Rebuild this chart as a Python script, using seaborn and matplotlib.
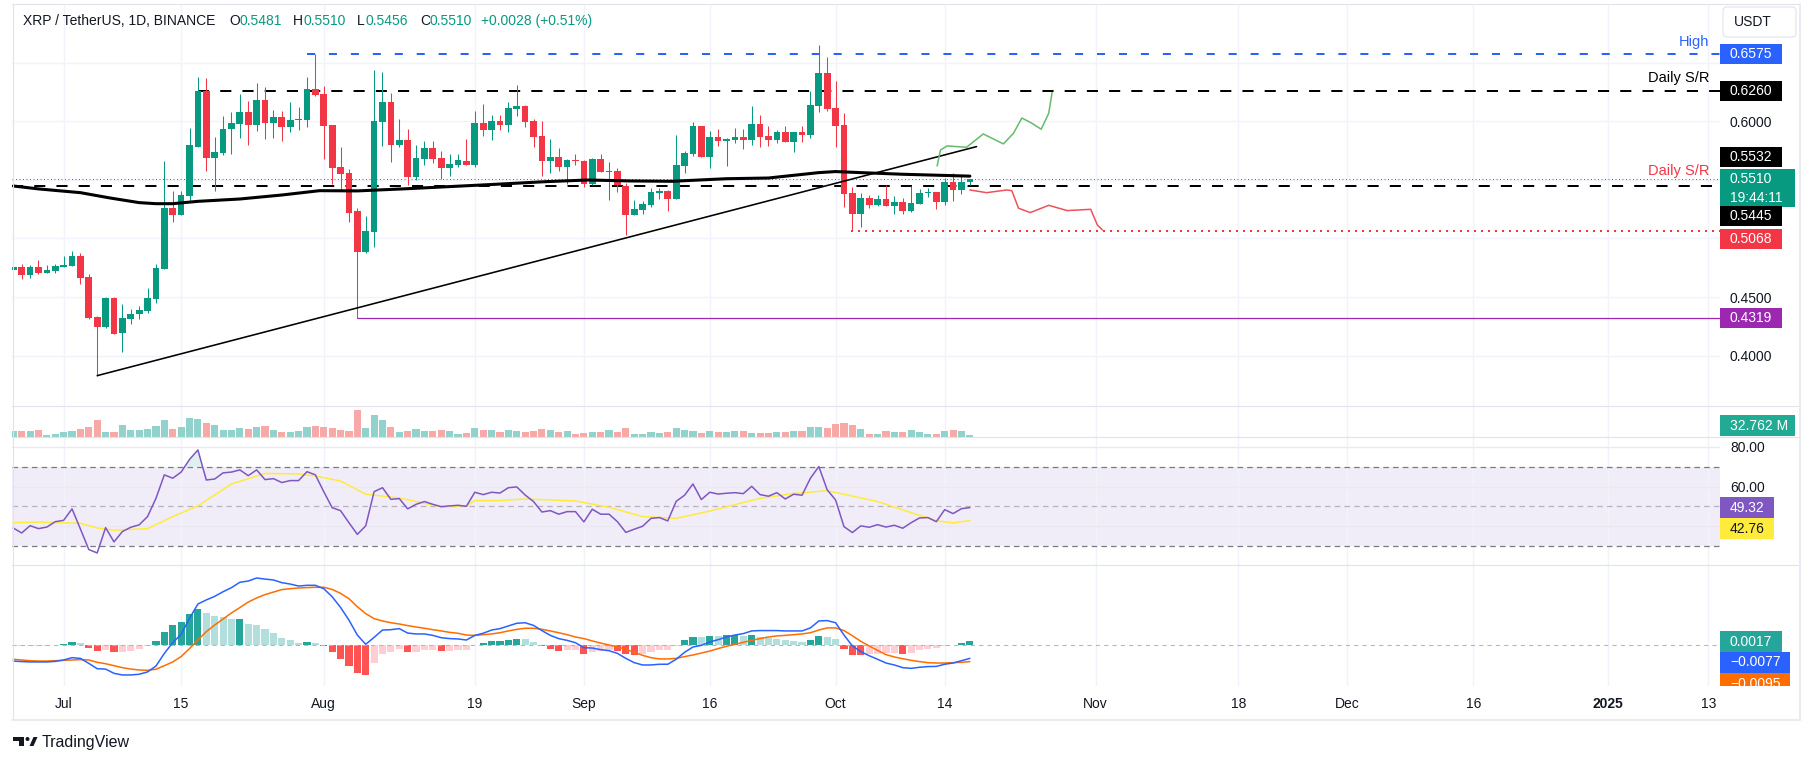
import numpy as np
import pandas as pd
import matplotlib
matplotlib.use("Agg")
import matplotlib.pyplot as plt
import matplotlib.dates as mdates
from matplotlib.patches import Rectangle, FancyBboxPatch, Polygon, Circle
from matplotlib.lines import Line2D
from matplotlib.transforms import IdentityTransform, Bbox
import seaborn as sns

# ---- data (XRP/USDT daily) ----
start = "2024-06-25"
opens = [.4734, .4754, .4692, .4754, .4709, .4726, .4757, .4768, .4851, .4672,
         .4330, .4248, .4493, .4197, .4313, .4353, .4382, .4484, .4743, .5261,
         .5201, .5363, .5781, .6259, .5690, .5730, .5935, .5977, .6080, .5969,
         .6182, .5986, .6037, .5952, .6011, .6011, .6276, .6233, .5969, .5611,
         .5557, .5235, .4885, .5056, .5997, .6165, .5798, .5841, .5525, .5679,
         .5772, .5687, .5602, .5627, .5662, .5627, .5986, .5926, .6003, .5969,
         .6105, .6131, .6003, .5875, .5662, .5696, .5610, .5670, .5662, .5465,
         .5679, .5568, .5576, .5448, .5201, .5244, .5286, .5389, .5406, .5337,
         .5619, .5721, .5960, .5696, .5866, .5832, .5841, .5866, .5841, .5977,
         .5875, .5841, .5909, .5824, .5909, .5883, .6131, .6412, .6114, .5969,
         .5389, .5209, .5346, .5286, .5337, .5278, .5312, .5235, .5295, .5389,
         .5397, .5312, .5482, .5414, .5481]
highs = [.4808, .4783, .4774, .4817, .4774, .4783, .4851, .4894, .4874, .4695,
         .4339, .4501, .4501, .4441, .4399, .4424, .4578, .4783, .5662, .5406,
         .5406, .5943, .6378, .6367, .5866, .6046, .6080, .6230, .6171, .6327,
         .6293, .6097, .6088, .6165, .6122, .6378, .6575, .6301, .5969, .5781,
         .5593, .5261, .5192, .6438, .6421, .6242, .6020, .5935, .5798, .5832,
         .5832, .5747, .5721, .5721, .5849, .6088, .6148, .6054, .6054, .6165,
         .6310, .6139, .6020, .6003, .5849, .5772, .5679, .5721, .5670, .5687,
         .5721, .5653, .5602, .5474, .5329, .5320, .5431, .5431, .5414, .5883,
         .5747, .5994, .5960, .5918, .5935, .5858, .5943, .5935, .6131, .6054,
         .5960, .5926, .5960, .5909, .5960, .6259, .6651, .6549, .6344, .6071,
         .5440, .5389, .5371, .5371, .5457, .5363, .5346, .5448, .5423, .5431,
         .5397, .5516, .5559, .5542, .5510]
lows = [.4725, .4658, .4666, .4700, .4705, .4709, .4757, .4768, .4615, .4313,
        .3830, .4237, .4188, .4035, .4271, .4313, .4365, .4450, .4743, .5141,
        .5201, .5312, .5781, .5579, .5408, .5713, .5721, .5858, .5798, .5918,
        .5849, .5858, .5832, .5909, .5926, .5952, .6216, .5679, .5465, .5406,
        .5141, .4319, .4877, .4928, .5790, .5653, .5781, .5457, .5499, .5627,
        .5644, .5508, .5534, .5610, .5627, .5610, .5875, .5841, .5926, .5909,
        .6046, .5952, .5781, .5534, .5559, .5576, .5465, .5627, .5440, .5457,
        .5568, .5329, .5397, .5030, .5201, .5209, .5269, .5337, .5235, .5337,
        .5559, .5704, .5696, .5602, .5790, .5619, .5815, .5764, .5798, .5781,
        .5790, .5815, .5824, .5738, .5824, .5858, .6080, .6088, .5781, .5269,
        .5068, .5098, .5261, .5278, .5278, .5209, .5209, .5226, .5295, .5354,
        .5252, .5286, .5320, .5380, .5456]
closes = [.4757, .4692, .4754, .4709, .4731, .4766, .4774, .4851, .4666, .4322,
          .4248, .4493, .4188, .4322, .4356, .4390, .4493, .4746, .5261, .5201,
          .5371, .5798, .6259, .5690, .5738, .5935, .5986, .6080, .5969, .6182,
          .5986, .6037, .5952, .6011, .6017, .6276, .6225, .5960, .5602, .5551,
          .5218, .4885, .5064, .6003, .6165, .5798, .5841, .5525, .5687, .5772,
          .5679, .5602, .5636, .5670, .5627, .5986, .5926, .6003, .5969, .6114,
          .6131, .5994, .5866, .5662, .5696, .5610, .5670, .5662, .5465, .5679,
          .5568, .5573, .5457, .5201, .5252, .5295, .5397, .5406, .5337, .5627,
          .5730, .5960, .5696, .5866, .5832, .5846, .5866, .5841, .5977, .5866,
          .5841, .5909, .5824, .5909, .5883, .6139, .6412, .6105, .5960, .5380,
          .5209, .5346, .5286, .5337, .5278, .5312, .5235, .5303, .5389, .5394,
          .5312, .5482, .5414, .5482, .5510]
volumes = [84.2, 84.2, 84.2, 98.3, 32.8, 42.1, 70.2, 84.2, 112.3, 140.4,
           224.6, 70.2, 70.2, 168.5, 98.3, 98.3, 112.3, 154.4, 224.6, 112.3,
           140.4, 252.7, 238.7, 196.6, 168.5, 98.3, 98.3, 126.4, 112.3, 140.4,
           154.4, 98.3, 70.2, 70.2, 84.2, 140.4, 154.4, 140.4, 126.4, 98.3,
           84.2, 365.0, 126.4, 294.8, 224.6, 140.4, 70.2, 84.2, 112.3, 84.2,
           84.2, 98.3, 84.2, 42.1, 56.2, 126.4, 98.3, 98.3, 70.2, 98.3,
           84.2, 70.2, 84.2, 112.3, 98.3, 70.2, 84.2, 42.1, 56.2, 70.2,
           70.2, 98.3, 70.2, 126.4, 42.1, 42.1, 70.2, 56.2, 70.2, 126.4,
           98.3, 84.2, 56.2, 84.2, 70.2, 70.2, 84.2, 84.2, 56.2, 56.2,
           56.2, 70.2, 70.2, 84.2, 84.2, 140.4, 140.4, 126.4, 182.5, 196.6,
           168.5, 112.3, 42.1, 42.1, 84.2, 70.2, 70.2, 98.3, 70.2, 42.1,
           42.1, 84.2, 98.3, 84.2, 32.762]
rsi = [39.0, 36.5, 40.2, 38.7, 39.5, 42.2, 42.9, 48.7, 38.5, 28.1,
       26.4, 39.2, 32.0, 37.2, 39.4, 40.6, 44.8, 54.0, 65.9, 64.2,
       67.3, 73.7, 78.5, 63.3, 63.8, 66.9, 67.3, 68.4, 65.5, 68.4,
       63.5, 64.0, 62.0, 63.0, 63.0, 67.5, 65.9, 57.4, 49.3, 47.8,
       41.7, 35.8, 40.1, 57.4, 59.4, 53.5, 53.9, 48.7, 51.0, 52.4,
       51.0, 49.8, 50.2, 50.5, 50.0, 57.1, 55.9, 57.1, 56.7, 59.4,
       59.8, 55.7, 52.4, 47.1, 47.8, 46.0, 47.3, 47.3, 42.1, 48.5,
       46.0, 46.0, 42.2, 36.8, 38.4, 39.9, 43.9, 44.3, 42.6, 52.5,
       55.6, 61.3, 53.4, 57.1, 56.2, 56.6, 56.9, 56.4, 60.1, 55.9,
       55.1, 56.9, 53.7, 56.1, 55.6, 64.2, 70.1, 58.3, 53.2, 39.7,
       36.7, 40.1, 39.4, 40.7, 39.5, 40.4, 38.9, 41.7, 44.1, 44.3,
       42.2, 48.3, 46.3, 48.8, 49.32]
rsi_ma_idx = [0, 3, 8, 10, 12, 16, 19, 22, 26, 30, 34, 36, 39, 42, 46, 51, 54, 55, 58,
              61, 67, 71, 75, 79, 83, 89, 93, 97, 99, 103, 107, 110, 112, 114]
rsi_ma = [41.7, 42.0, 41.4, 39.0, 37.9, 38.7, 44.8, 50.2, 61.3, 66.6, 66.4, 65.3, 62.8,
          56.1, 54.2, 49.7, 50.2, 52.9, 52.9, 53.7, 52.7, 49.5, 44.8, 43.9, 47.6, 54.0,
          56.5, 57.9, 56.1, 52.4, 46.8, 42.7, 41.6, 42.76]
macd = [-0.0092, -0.0095, -0.0097, -0.0097, -0.0097, -0.0094, -0.0086, -0.0073, -0.0077, -0.0105,
        -0.0135, -0.0137, -0.0161, -0.0170, -0.0170, -0.0166, -0.0153, -0.0120, -0.0049, 0.0011,
        0.0058, 0.0148, 0.0228, 0.0251, 0.0271, 0.0297, 0.0320, 0.0350, 0.0357, 0.0374,
        0.0368, 0.0363, 0.0348, 0.0340, 0.0329, 0.0333, 0.0333, 0.0314, 0.0269, 0.0209,
        0.0138, 0.0054, 0.0002, 0.0041, 0.0082, 0.0084, 0.0090, 0.0065, 0.0060, 0.0060,
        0.0052, 0.0039, 0.0034, 0.0032, 0.0026, 0.0052, 0.0064, 0.0082, 0.0090, 0.0105,
        0.0120, 0.0123, 0.0108, 0.0079, 0.0052, 0.0034, 0.0024, 0.0011, -0.0017, -0.0019,
        -0.0028, -0.0034, -0.0049, -0.0077, -0.0101, -0.0114, -0.0114, -0.0110, -0.0110, -0.0082,
        -0.0043, -0.0013, -0.0004, 0.0015, 0.0028, 0.0043, 0.0054, 0.0062, 0.0077, 0.0079,
        0.0079, 0.0079, 0.0077, 0.0077, 0.0077, 0.0094, 0.0133, 0.0135, 0.0123, 0.0054,
        -0.0007, -0.0039, -0.0062, -0.0082, -0.0103, -0.0114, -0.0129, -0.0133, -0.0127, -0.0123,
        -0.0122, -0.0110, -0.0103, -0.0090, -0.0077]
signal = [-0.0082, -0.0086, -0.0090, -0.0092, -0.0092, -0.0090, -0.0088, -0.0086, -0.0084, -0.0086,
          -0.0099, -0.0107, -0.0118, -0.0129, -0.0137, -0.0142, -0.0144, -0.0138, -0.0118, -0.0097,
          -0.0067, -0.0022, 0.0026, 0.0073, 0.0110, 0.0144, 0.0178, 0.0208, 0.0239, 0.0262,
          0.0281, 0.0295, 0.0309, 0.0314, 0.0318, 0.0320, 0.0322, 0.0322, 0.0310, 0.0288,
          0.0258, 0.0213, 0.0174, 0.0146, 0.0133, 0.0123, 0.0116, 0.0107, 0.0099, 0.0092,
          0.0084, 0.0077, 0.0069, 0.0064, 0.0054, 0.0052, 0.0056, 0.0060, 0.0067, 0.0077,
          0.0086, 0.0092, 0.0092, 0.0086, 0.0077, 0.0067, 0.0056, 0.0043, 0.0034, 0.0021,
          0.0009, -0.0002, -0.0013, -0.0026, -0.0043, -0.0060, -0.0073, -0.0080, -0.0080, -0.0077,
          -0.0067, -0.0058, -0.0047, -0.0036, -0.0022, -0.0009, 0.0002, 0.0013, 0.0024, 0.0034,
          0.0043, 0.0049, 0.0052, 0.0056, 0.0060, 0.0067, 0.0082, 0.0094, 0.0094, 0.0079,
          0.0050, 0.0019, -0.0007, -0.0032, -0.0056, -0.0069, -0.0079, -0.0088, -0.0095, -0.0101,
          -0.0103, -0.0103, -0.0101, -0.0099, -0.0095]
macd_tags = ["0.0017", "\u22120.0077", "\u22120.0095"]

ma200_idx = [0, 3, 8, 11.5, 15, 17, 19, 22, 27, 32, 36.5, 41, 47, 56, 63.5, 68.5, 73.5,
             78.5, 85, 90, 96, 98, 101, 106, 114]
ma200 = [0.5448, 0.5423, 0.5391, 0.5346, 0.5306, 0.5297, 0.5297, 0.5317, 0.5337, 0.5371,
         0.5408, 0.5406, 0.5425, 0.5457, 0.5485, 0.5499, 0.5491, 0.5488, 0.5510, 0.5516,
         0.5562, 0.5571, 0.5562, 0.5548, 0.5532]
trend_idx = [10, 114.8]
trend_px = [0.3830, 0.5784]
bull_idx = [110.1, 110.5, 111.3, 113.6, 115.6, 118.0, 119.2, 120.2, 121.4, 122.5, 123.4, 123.8]
bull_px = [0.5619, 0.5755, 0.5790, 0.5778, 0.5892, 0.5807, 0.5898, 0.6028, 0.5983, 0.5932, 0.6068, 0.6245]
bear_idx = [114.0, 116.0, 118.4, 119.0, 119.8, 121.2, 123.4, 125.6, 128.4, 129.2, 129.8]
bear_px = [0.5414, 0.5391, 0.5414, 0.5408, 0.5258, 0.5221, 0.5283, 0.5238, 0.5249, 0.5115, 0.5073]

high_level, high_from = 0.6575, 35
res_level, res_from = 0.6260, 22
sup_level = 0.5445
low_level, low_from = 0.5068, 99.8
aug_low, aug_from = 0.4319, 41

price_ticks = [0.40, 0.45, 0.50, 0.55, 0.60, 0.65]
price_tick_labels = ["0.4000", "0.4500", "", "", "0.6000", ""]
tick_dates = ["2024-07-01", "2024-07-15", "2024-08-01", "2024-08-19", "2024-09-01", "2024-09-16",
              "2024-10-01", "2024-10-14", "2024-11-01", "2024-11-18", "2024-12-01", "2024-12-16",
              "2025-01-01", "2025-01-13"]
tick_labels = ["Jul", "15", "Aug", "19", "Sep", "16", "Oct", "14", "Nov", "18", "Dec", "16", "2025", "13"]

# ---- style ----
GREEN, RED, DARK, GRID = "#089981", "#f23645", "#131722", "#f0f3fa"
sns.set_style("white")
plt.rcParams["font.family"] = ["Liberation Sans", "DejaVu Sans"]
plt.rcParams["lines.scale_dashes"] = False

W, H = 1814, 765
fig = plt.figure(figsize=(W / 100, H / 100), dpi=100)
PX = IdentityTransform()

base = mdates.date2num(pd.Timestamp(start))
o, h, l, c = map(np.array, (opens, highs, lows, closes))
n = len(c)
x = base + np.arange(n)
up = c >= o
x_right = base + 203.4


def pane(top, bottom):
    ax = fig.add_axes([12 / W, 1 - bottom / H, 1708 / W, (bottom - top) / H])
    ax.set_xlim(base - 0.155, x_right)
    for s in ax.spines.values():
        s.set_visible(False)
    ax.set_xticks(mdates.date2num(pd.to_datetime(tick_dates)))
    ax.tick_params(length=0, labelbottom=False, labelleft=False, labelright=False)
    ax.grid(axis="x", color=GRID, lw=1)
    ax.set_axisbelow(True)
    return ax


# ---- price pane ----
ax_p = pane(5, 406)
ax_p.set_ylim(0.3571, 0.6992)
ax_p.yaxis.tick_right()
ax_p.set_yticks(price_ticks, labels=price_tick_labels)
ax_p.tick_params(axis="y", length=0, labelright=True, pad=7.2, labelsize=10, labelcolor=DARK)
ax_p.grid(axis="y", color=GRID, lw=1)

col = np.where(up, GREEN, RED)
ax_p.vlines(x, l, h, colors=col, lw=0.75, zorder=3)
ax_p.bar(x, np.maximum(np.abs(c - o), 0.0007), bottom=np.minimum(o, c), width=0.8,
         color=col, linewidth=0, zorder=3)

sns.lineplot(x=base + np.array(ma200_idx), y=ma200, ax=ax_p, color="black", linewidth=2.2, zorder=4)
sns.lineplot(x=base + np.array(trend_idx), y=trend_px, ax=ax_p, color="black", linewidth=1.15, zorder=4)
sns.lineplot(x=base + np.array(bull_idx), y=bull_px, ax=ax_p, color="#66bb6a", linewidth=1.1, zorder=4)
sns.lineplot(x=base + np.array(bear_idx), y=bear_px, ax=ax_p, color="#f0505a", linewidth=1.1, zorder=4)

ax_p.plot([base + high_from, x_right], [high_level] * 2, color="#2962ff", lw=1.44, ls=(0, (5.8, 10)), zorder=2)
ax_p.plot([base + res_from, x_right], [res_level] * 2, color="black", lw=1.44, ls=(0, (8, 8)), zorder=2)
ax_p.plot([base - 0.155, x_right], [sup_level] * 2, color="black", lw=1.44, ls=(0, (8, 8)), zorder=2)
ax_p.plot([base + low_from, x_right], [low_level] * 2, color=RED, lw=1.44, ls=(0, (1.44, 3.6)), zorder=2)
ax_p.plot([base + aug_from, x_right], [aug_low] * 2, color="#9c27b0", lw=0.9, zorder=2)
ax_p.axhline(c[-1], color=GREEN, lw=0.72, ls=(0, (0.72, 1.8)), zorder=2)


def note(ax, y, s, color, dy):
    ax.annotate(s, xy=(1, y), xycoords=("axes fraction", "data"), xytext=(-11, dy),
                textcoords="offset pixels", ha="right", va="center", fontsize=10.5, color=color)


note(ax_p, high_level, "High", "#2962ff", 12)
note(ax_p, res_level, "Daily S/R", "black", 13)
note(ax_p, sup_level, "Daily S/R", RED, 15)

# ---- volume pane ----
ax_v = pane(406, 437)
ax_v.bar(x, volumes, width=0.85, color=np.where(up, "#92d2cc", "#f7a9a7"), linewidth=0)
ax_v.set_ylim(0, 421)
ax_v.set_yticks([])

# ---- RSI pane ----
rsi_a = np.array(rsi)
ax_r = pane(437, 565)
ax_r.set_ylim(20.3, 85.05)
ax_r.axhspan(30, 70, color="#7e57c2", alpha=0.1, lw=0, zorder=0)
ax_r.yaxis.tick_right()
ax_r.set_yticks([40, 60, 80])
ax_r.yaxis.set_major_formatter("{x:.2f}")
ax_r.tick_params(axis="y", length=0, labelright=True, pad=7.2, labelsize=10, labelcolor=DARK)
ax_r.grid(axis="y", color="#ebe8f2", lw=1)
for lev, a in ((70, 1), (30, 1), (50, 0.5)):
    ax_r.axhline(lev, color="#787b86", alpha=a, lw=0.9, ls=(0, (4, 3)))
ax_r.fill_between(x, rsi_a, 70, where=rsi_a > 70, interpolate=True, color="#26a69a", alpha=0.15, lw=0)
sns.lineplot(x=base + np.array(rsi_ma_idx), y=rsi_ma, ax=ax_r, color="#ffeb3b", linewidth=1.1)
sns.lineplot(x=x, y=rsi_a, ax=ax_r, color="#7e57c2", linewidth=1.1)

# ---- MACD pane ----
ax_m = pane(565, 686)
m, s_ = np.array(macd), np.array(signal)
hist = m - s_
prev = np.r_[hist[0], hist[:-1]]
hcol = np.where(hist >= 0, np.where(hist > prev, "#26a69a", "#b2dfdb"),
                np.where(hist < prev, "#ff5252", "#ffcdd2"))
ax_m.bar(x, hist, width=0.85, color=hcol, linewidth=0)
ax_m.axhline(0, color="#b2b5be", lw=0.75, ls=(0, (3, 3)))
sns.lineplot(x=x, y=s_, ax=ax_m, color="#ff6d00", linewidth=1.1)
sns.lineplot(x=x, y=m, ax=ax_m, color="#2962ff", linewidth=1.1)
ax_m.set_ylim(-0.0232, 0.0447)
ax_m.set_yticks([])
ax_m.set_xticks(mdates.date2num(pd.to_datetime(tick_dates)), labels=tick_labels)
ax_m.tick_params(axis="x", labelbottom=True, pad=8, labelsize=10, labelcolor=DARK)
for t in ax_m.get_xticklabels():
    if t.get_text() == "2025":
        t.set_fontweight("bold")

for ax in (ax_p, ax_v, ax_r, ax_m):
    ax.set_xlabel("")
    ax.set_ylabel("")


# ---- right-hand scale tags ----
def ypx(ax, val):
    return H - ax.transData.transform((ax.get_xlim()[0], val))[1]


def tag(yc, text, bg, fg="white", w=62, hh=20, clip=None):
    r = Rectangle((1720, H - yc - hh / 2), w, hh, transform=PX, facecolor=bg, edgecolor="none", zorder=5)
    fig.add_artist(r)
    t = fig.text(1730, H - yc, text, transform=PX, color=fg, fontsize=10, va="center", ha="left", zorder=6)
    if clip is not None:
        r.set_clip_box(clip)
        r.set_clip_on(True)
        t.set_clip_box(clip)
        t.set_clip_on(True)


usdt = FancyBboxPatch((1723, H - 37), 73, 30, boxstyle="round,pad=0,rounding_size=4", transform=PX,
                      facecolor="white", edgecolor="#e0e3eb", lw=0.8, zorder=5)
fig.add_artist(usdt)
fig.text(1753, H - 22, "USDT", transform=PX, color=DARK, fontsize=10, ha="center", va="center", zorder=6)

tag(ypx(ax_p, high_level), f"{high_level:.4f}", "#2962ff")
tag(ypx(ax_p, res_level), f"{res_level:.4f}", "black")
tag(ypx(ax_p, ma200[-1]) - 19, f"{ma200[-1]:.4f}", "black")
yc = ypx(ax_p, c[-1])
fig.add_artist(Rectangle((1720, H - yc - 28), 75, 38, transform=PX, facecolor=GREEN, edgecolor="none", zorder=5))
fig.text(1730, H - yc, f"{c[-1]:.4f}", transform=PX, color="white", fontsize=10, va="center", zorder=6)
fig.text(1730, H - yc - 19, "19:44:11", transform=PX, color="white", fontsize=10, va="center", zorder=6)
tag(ypx(ax_p, sup_level) + 30, f"{sup_level:.4f}", "black")
tag(ypx(ax_p, low_level) + 8, f"{low_level:.4f}", RED)
tag(ypx(ax_p, aug_low), f"{aug_low:.4f}", "#9c27b0")

tag(425.5, f"{volumes[-1]:.3f} M", "#22ab94", w=75, hh=21)
tag(ypx(ax_r, rsi[-1]), f"{rsi[-1]:.2f}", "#7e57c2", w=54, hh=21)
tag(ypx(ax_r, rsi_ma[-1]) + 8, f"{rsi_ma[-1]:.2f}", "#ffeb3b", fg=DARK, w=54, hh=21)

clip = Bbox([[0, H - 686], [W, H]])
tag(ypx(ax_m, 0.0017), macd_tags[0], "#26a69a", w=62, hh=21)
tag(ypx(ax_m, m[-1]) + 4, macd_tags[1], "#2962ff", w=70, hh=21)
tag(ypx(ax_m, s_[-1]) + 22, macd_tags[2], "#ff6d00", w=70, hh=21, clip=clip)


# ---- frame, separators, header, logo ----
def seg(x0, y0, x1, y1, lw=0.8, color="#e0e3eb"):
    fig.add_artist(Line2D([x0, x1], [H - y0, H - y1], transform=PX, color=color, lw=lw, zorder=7))


for yy in (406, 437, 565):
    seg(12, yy, 1800, yy)
seg(12.5, 4, 12.5, 720)
seg(12, 4, 1800, 4)
seg(1800, 4, 1800, 720, lw=1.4, color="#e9ebf0")
seg(12, 720, 1800, 720, lw=1.4, color="#e9ebf0")

chg = c[-1] - c[-2]
hdr = [(23, "XRP / TetherUS, 1D, BINANCE", DARK), (229, "O", DARK), (239, f"{o[-1]:.4f}", GREEN),
       (293, "H", DARK), (304, f"{h[-1]:.4f}", GREEN), (357, "L", DARK), (365, f"{l[-1]:.4f}", GREEN),
       (420, "C", DARK), (429, f"{c[-1]:.4f}", GREEN),
       (481, f"{chg:+.4f} ({chg / c[-2] * 100:+.2f}%)", GREEN)]
for xx, s, cc in hdr:
    fig.text(xx, H - 21, s, transform=PX, color=cc, fontsize=10, va="center", ha="left")

fig.add_artist(Polygon([(13, H - 737), (24, H - 737), (24, H - 746), (18.5, H - 746), (18.5, H - 741),
                        (13, H - 741)], closed=True, transform=PX, facecolor=DARK, edgecolor="none"))
fig.add_artist(Circle((27.5, H - 739), 2.0, transform=PX, facecolor=DARK, edgecolor="none"))
fig.add_artist(Polygon([(29.5, H - 746), (33.5, H - 737), (37.5, H - 737), (33.5, H - 746)], closed=True,
                       transform=PX, facecolor=DARK, edgecolor="none"))
fig.text(42, H - 742, "TradingView", transform=PX, color=DARK, fontsize=11.5, va="center", ha="left")

fig.savefig("out.png", dpi=100)
